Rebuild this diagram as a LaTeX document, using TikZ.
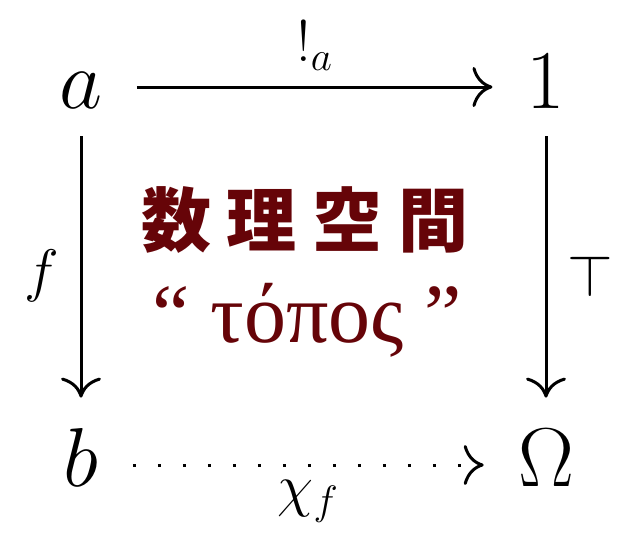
\RequirePackage{fix-cm}
\documentclass[tikz,border=0pt]{standalone}
\usepackage{fontspec}
\newfontfamily\cjk{Noto Sans CJK JP}
\newfontfamily\greek{Liberation Serif}
\usetikzlibrary{arrows.meta}
\definecolor{toposred}{RGB}{102,4,8}

\begin{document}
\begin{tikzpicture} [
    x = 0.5pt, y = -0.5pt,
    object/.style = {font = \fontsize{41.8}{50}\selectfont, text height = 29pt, text depth = 8pt, inner xsep = 17pt, inner ysep = 6pt},
    arrow/.style = {line width = 1.5pt, -{Computer Modern Rightarrow[length = 10pt, width = 20pt]}},
    arrowlabel/.style = {font = \fontsize{29.3}{35}\selectfont}
]

\useasboundingbox (0,0) rectangle (644,558);

% objects
\node (a) at (81,87) [object] {$a$};
\node (one) at (546,87) [object] {$1$};
\node (b) at (81,465) [object] {$b$};
\node (Omega) at (546,465) [object] {$\Omega$};

% arrows
\draw [arrow] (a) -- node [arrowlabel, above, inner sep = 7.5pt] {$!_a$} (one);
\draw [arrow, shorten >= 9pt] (a) -- node [arrowlabel, left, inner sep = 10pt] {$f$} (b);
\draw [arrow, shorten >= 9pt] (one) -- node [arrowlabel, right, inner sep = 10pt] {$\top$} (Omega);
\draw [arrow, dash pattern = on 1.5pt off 11pt] (b) -- node [arrowlabel, below, inner sep = 7pt] {$\chi_f$} (Omega);

% text
\node (title) at (305,220) [font = \cjk\bfseries\fontsize{35}{40}\selectfont, text = toposred] {数\hspace{8pt}理\hspace{8pt}空\hspace{8pt}間};
\node (topos) at (307,342) [anchor = base, font = \greek\fontsize{42}{50}\selectfont, text = toposred] {“ τόπος ”};

\end{tikzpicture}
\end{document}
